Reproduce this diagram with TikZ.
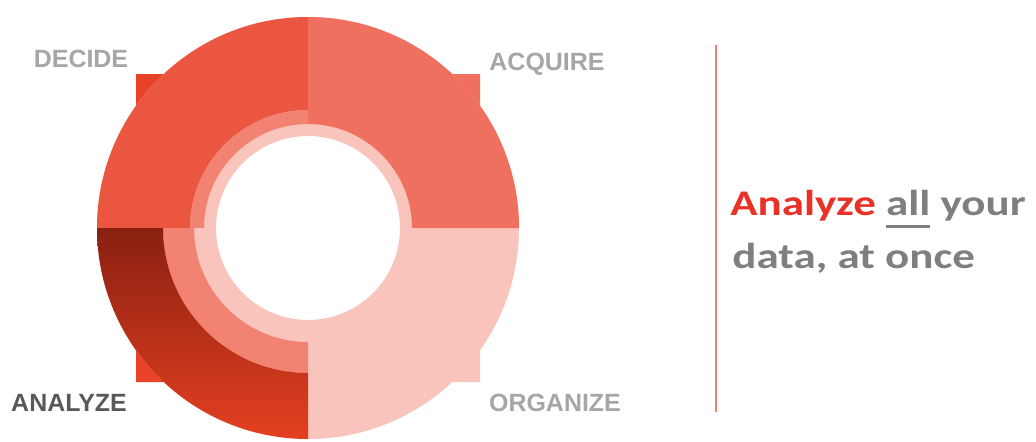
\documentclass[tikz,border=0pt]{standalone}
\usepackage{fontspec}
\setmainfont{Liberation Sans}
\newfontfamily\slidefont[FakeStretch=1.25]{Carlito}

\definecolor{deccol}{RGB}{234,86,64}
\definecolor{acqcol}{RGB}{239,112,94}
\definecolor{midcol}{RGB}{242,130,114}
\definecolor{orgcol}{RGB}{249,196,187}
\definecolor{anatop}{RGB}{137,32,17}
\definecolor{anabot}{RGB}{228,64,32}
\definecolor{tipred}{RGB}{233,66,40}
\definecolor{lblgray}{RGB}{166,166,166}
\definecolor{lbldark}{RGB}{89,89,89}
\definecolor{txtgray}{RGB}{127,127,127}
\definecolor{hlred}{RGB}{232,50,40}
\definecolor{sepred}{RGB}{240,128,112}

% underline that sits below the descenders
\newcommand{\undl}[1]{\setbox0\hbox{#1}\rlap{\rule[-0.36em]{\wd0}{0.08em}}\box0\relax}

\tikzset{
  stagelbl/.style = {anchor = base, inner sep = 0, text = lblgray,
    font = \bfseries\fontsize{14.2}{17}\selectfont},
  slogan/.style = {anchor = base west, inner sep = 0, text = txtgray,
    font = \slidefont\bfseries\fontsize{20.5}{30}\selectfont}
}

\begin{document}
\begin{tikzpicture}[x = 0.02cm, y = 0.02cm]
\useasboundingbox (0, 0) rectangle (1036, 441);
%\draw [help lines, step = 50] (0, 0) grid (1036, 441);
\begin{scope}[shift = {(308, 213)}]
% arrow tips at the corners
\fill [tipred] (-172, 154) -- (-144, 154) -- (-172, 122) -- cycle;
\fill [acqcol] (172, 154) -- (144, 154) -- (172, 122) -- cycle;
\fill [orgcol] (172, -154) -- (144, -154) -- (172, -122) -- cycle;
\fill [tipred] (-172, -154) -- (-144, -154) -- (-172, -122) -- cycle;
% the ring
\fill [orgcol, even odd rule] (0, 0) circle (211) circle (92);
\fill [deccol] (90:211) arc (90:180:211) -- (180:118) arc (180:90:118) -- cycle;
\fill [midcol] (90:118) arc (90:180:118) -- (180:104) arc (180:90:104) -- cycle;
\fill [acqcol] (0:211) arc (0:90:211) -- (90:104) arc (90:0:104) -- cycle;
\fill [midcol] (180:145) arc (180:270:145) -- (270:114) arc (270:180:114) -- cycle;
\shade [top color = anatop, bottom color = anabot]
  (180:211) arc (180:270:211) -- (270:145) arc (270:180:145) -- cycle;
\end{scope}
\node [stagelbl] (decide) at (81, 374) {DECIDE};
\node [stagelbl] (acquire) at (547, 371) {ACQUIRE};
\node [stagelbl] (organize) at (555, 30) {ORGANIZE};
\node [stagelbl, text = lbldark] (analyze) at (69, 30) {ANALYZE};
\draw [sepred, line width = 1.1pt] (716, 396) -- (716, 29);
\node [slogan] (line1) at (730, 226) {{\color{hlred}Analyze} \undl{all} your};
\node [slogan] (line2) at (732, 173) {data, at once};
\end{tikzpicture}
\end{document}
